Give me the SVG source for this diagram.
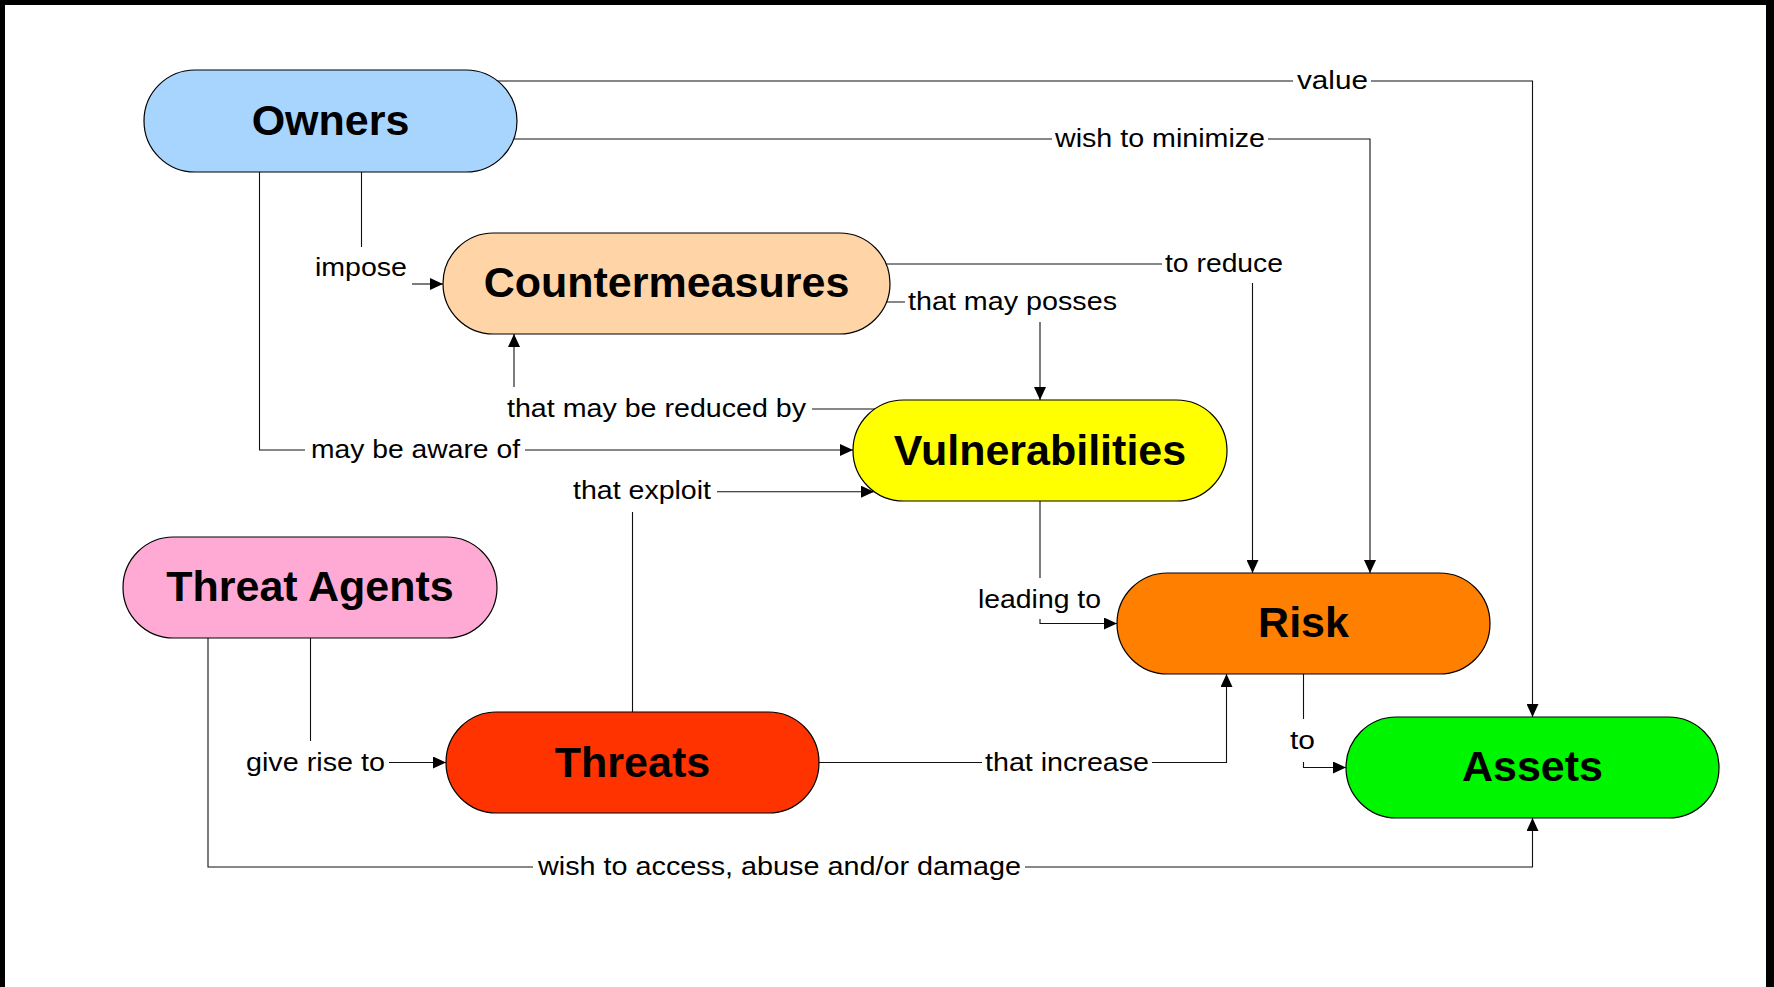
<svg xmlns="http://www.w3.org/2000/svg" width="1774" height="987" viewBox="0 0 1774 987">
<style>
.node{stroke:#000;stroke-width:1.2}
.nt{font-family:"Liberation Sans",Arial,sans-serif;font-weight:bold;font-size:43px;fill:#000;text-anchor:middle}
.lbl{font-family:"Liberation Sans",Arial,sans-serif;font-size:26px;fill:#000}
.c{fill:none;stroke:#111;stroke-width:1.1}
.a{marker-end:url(#arr)}
</style>
<defs>
<marker id="arr" markerUnits="userSpaceOnUse" markerWidth="13" markerHeight="12" refX="13" refY="6" orient="auto">
<path d="M0,0 L13,6 L0,12 z" fill="#000"/>
</marker>
</defs>
<rect x="0" y="0" width="1774" height="987" fill="#000"/>
<rect x="5" y="5" width="1761" height="982" fill="#fff"/>
<g id="connectors">
<path class="c" d="M480,81 H1293"/>
<path class="c a" d="M1371,81 H1532.5 V717"/>
<path class="c" d="M480,139 H1052"/>
<path class="c a" d="M1268,139 H1370 V573"/>
<path class="c" d="M860,264 H1162"/>
<path class="c a" d="M1252.5,283 V573"/>
<path class="c" d="M860,302 H905"/>
<path class="c a" d="M1040,322 V400"/>
<path class="c" d="M361.5,150 V247"/>
<path class="c a" d="M412,284 H443"/>
<path class="c" d="M890,409 H812"/>
<path class="c a" d="M514,387 V334"/>
<path class="c" d="M259.5,150 V450 H305"/>
<path class="c a" d="M525,450 H853"/>
<path class="c" d="M632.5,730 V512"/>
<path class="c a" d="M717,491.7 H874"/>
<path class="c" d="M1040,480 V578"/>
<path class="c a" d="M1040,619 V623.5 H1117"/>
<path class="c" d="M310.5,620 V741"/>
<path class="c a" d="M389,762.5 H446"/>
<path class="c" d="M208,620 V867 H533"/>
<path class="c a" d="M1025,867 H1532.5 V818"/>
<path class="c" d="M800,762.5 H982"/>
<path class="c a" d="M1152,762.5 H1226.5 V674"/>
<path class="c" d="M1303.5,660 V719"/>
<path class="c a" d="M1303.5,762 V767.5 H1346"/>
<text class="lbl" x="1297" y="89" textLength="71" lengthAdjust="spacingAndGlyphs">value</text>
<text class="lbl" x="1055" y="147" textLength="210" lengthAdjust="spacingAndGlyphs">wish to minimize</text>
<text class="lbl" x="1165" y="272" textLength="118" lengthAdjust="spacingAndGlyphs">to reduce</text>
<text class="lbl" x="908" y="310" textLength="209" lengthAdjust="spacingAndGlyphs">that may posses</text>
<text class="lbl" x="315" y="276" textLength="92" lengthAdjust="spacingAndGlyphs">impose</text>
<text class="lbl" x="507" y="417" textLength="299" lengthAdjust="spacingAndGlyphs">that may be reduced by</text>
<text class="lbl" x="311" y="457.5" textLength="209" lengthAdjust="spacingAndGlyphs">may be aware of</text>
<text class="lbl" x="573" y="498.5" textLength="138" lengthAdjust="spacingAndGlyphs">that exploit</text>
<text class="lbl" x="978" y="608" textLength="123" lengthAdjust="spacingAndGlyphs">leading to</text>
<text class="lbl" x="246" y="771" textLength="139" lengthAdjust="spacingAndGlyphs">give rise to</text>
<text class="lbl" x="538" y="875" textLength="483" lengthAdjust="spacingAndGlyphs">wish to access, abuse and/or damage</text>
<text class="lbl" x="985" y="771" textLength="164" lengthAdjust="spacingAndGlyphs">that increase</text>
<text class="lbl" x="1290" y="749" textLength="25" lengthAdjust="spacingAndGlyphs">to</text>
</g>
<g id="owners">
<rect class="node" x="144" y="70" width="373" height="102" rx="51" ry="51" fill="#A8D5FE"/>
<text class="nt" x="330.5" y="135">Owners</text>
</g>
<g id="countermeasures">
<rect class="node" x="443" y="233" width="447" height="101" rx="50.5" ry="50.5" fill="#FFD5A8"/>
<text class="nt" x="666.5" y="297">Countermeasures</text>
</g>
<g id="vulnerabilities">
<rect class="node" x="853" y="400" width="374" height="101" rx="50.5" ry="50.5" fill="#FFFF00"/>
<text class="nt" x="1040" y="465">Vulnerabilities</text>
</g>
<g id="threat-agents">
<rect class="node" x="123" y="537" width="374" height="101" rx="50.5" ry="50.5" fill="#FFAAD5"/>
<text class="nt" x="310" y="601">Threat Agents</text>
</g>
<g id="risk">
<rect class="node" x="1117" y="573" width="373" height="101" rx="50.5" ry="50.5" fill="#FF7F00"/>
<text class="nt" x="1303.5" y="637">Risk</text>
</g>
<g id="threats">
<rect class="node" x="446" y="712" width="373" height="101" rx="50.5" ry="50.5" fill="#FF3300"/>
<text class="nt" x="632.5" y="777">Threats</text>
</g>
<g id="assets">
<rect class="node" x="1346" y="717" width="373" height="101" rx="50.5" ry="50.5" fill="#00F500"/>
<text class="nt" x="1532.5" y="781">Assets</text>
</g>
</svg>
